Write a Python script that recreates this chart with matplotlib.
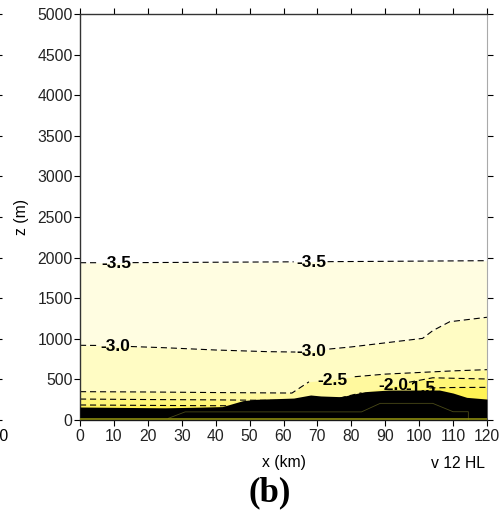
import numpy as np
import matplotlib
matplotlib.use("Agg")
import matplotlib.pyplot as plt

plt.rcParams['font.family'] = ['Liberation Sans', 'DejaVu Sans']

nan = np.nan
# contour lines (x in km, z in m); NaN marks gaps left for labels
x35 = [0, 5.5, nan, 15.5, 30, 45, 63, nan, 73, 90, 105, 120]
z35 = [1937, 1937, nan, 1938, 1941, 1944, 1948, nan, 1950, 1954, 1958, 1962]

x30 = [0, 5.5, nan, 15, 25, 40, 55, 63.5, nan, 73.5, 80, 90, 101, 104, 109, 120]
z30 = [920, 918, nan, 905, 890, 862, 842, 837, nan, 874, 900, 950, 1005, 1100, 1210, 1265]

x25 = [0, 20, 40, 62.5, 67.5, nan, 81, 90, 100, 110, 120]
z25 = [349, 345, 338, 332, 470, nan, 533, 565, 585, 605, 620]

x20 = [0, 20, 40, 48, 60, 75, 83, nan, 97, 104, 112, 120]
z20 = [258, 252, 248, 245, 240, 255, 335, nan, 465, 520, 512, 505]

x15 = [0, 20, 38, 50, 70, 90, 95, nan, 103, 110, 120]
z15 = [185, 180, 176, 175, 200, 300, 350, nan, 395, 400, 402]

levels = [-3.5, -3.0, -2.5, -2.0, -1.5]
band_colors = ['#FFFDE1', '#FFFCC4', '#FFF99E', '#FFF678', '#FFF355']

# contour labels: (text, x, z)
label_txt = ['-3.5', '-3.5', '-3.0', '-3.0', '-2.5', '-2.0', '-1.5']
label_x = [10.6, 68.2, 10.3, 68.3, 74.5, 92.5, 100.5]
label_z = [1930, 1942, 910, 840, 485, 430, 390]

# terrain
xt = [0, 25, 35, 42, 48, 52, 63, 68, 71, 77, 84, 91, 106, 110, 114, 120]
zt = [160, 150, 158, 165, 238, 255, 270, 308, 296, 287, 349, 369, 369, 332, 279, 258]

# inner terrain outline
xi = [26, 31, 83, 88.5, 104, 110, 114.5, 114.5]
zi = [20, 100, 100, 205, 205, 102, 102, 0]

xticks = list(range(0, 121, 10))
zticks = list(range(0, 5001, 500))

fig = plt.figure(figsize=(5.01, 5.19), dpi=100)
ax = fig.add_axes([80/501, 1-420/519, 407/501, 406/519])

lines = [(x35, z35), (x30, z30), (x25, z25), (x20, z20), (x15, z15)]
for (xs, zs), c in zip(lines, band_colors):
    xa = np.array(xs, float); za = np.array(zs, float)
    m = ~np.isnan(xa)
    ax.fill_between(xa[m], za[m], 0, color=c, lw=0, zorder=1)
for xs, zs in lines:
    ax.plot(xs, zs, color='black', lw=0.8, linestyle=(0, (5.5, 3.5)), zorder=2)

for t, lx, lz in zip(label_txt, label_x, label_z):
    ax.text(lx, lz, t, ha='center', va='center', fontsize=12.5, fontweight='bold', zorder=3)

ax.fill_between(xt, zt, 0, color='black', lw=0, zorder=4)
ax.plot(xi, zi, color='#4a4a18', lw=0.6, zorder=5)
ax.plot([0, 120], [8, 8], color='#8c8c10', lw=1.2, zorder=5)

ax.set_xlim(0, 120)
ax.set_ylim(0, 5000)
ax.set_xticks(xticks)
ax.set_yticks(zticks)
ax.tick_params(direction='out', length=4.3, width=0.8, labelsize=11.3, pad=1,
               top=True, right=True)
ax.tick_params(axis='x', pad=2)
for lab in ax.get_xticklabels() + ax.get_yticklabels():
    lab.set_color('#222222')
for s in ['left', 'bottom', 'top']:
    ax.spines[s].set_color('#333333')
    ax.spines[s].set_linewidth(1.0)
ax.spines['right'].set_color('#aaaaaa')
for t in ax.yaxis.get_ticklines()[1::2]:
    t.set_color('#666666')

ax.set_xlabel('x (km)', fontsize=11.3)
ax.xaxis.set_label_coords(0.5, (420-463)/406)
ax.xaxis.label.set_va('center')
ax.set_ylabel('z (m)', fontsize=11.3)
ax.yaxis.set_label_coords((22-80)/407, 0.5)
ax.yaxis.label.set_va('center')

fig.text(458/501, 1-463/519, 'v 12 HL', ha='center', va='center', fontsize=11.3)
fig.text(270/501, 1-493/519, '(b)', ha='center', va='center', fontsize=25,
         fontweight='bold', family='Liberation Serif')

# neighbouring panel (cut off at the left edge)
ax2 = fig.add_axes([-304/501, 1-420/519, 300/501, 406/519])
ax2.set_xlim(0, 120)
ax2.set_ylim(0, 5000)
ax2.set_xticks(xticks)
ax2.set_xticklabels([''] * (len(xticks) - 1) + ['120'])
ax2.set_yticks(zticks)
ax2.yaxis.tick_right()
ax2.set_yticklabels([])
for s in ax2.spines.values():
    s.set_visible(False)
ax2.patch.set_visible(False)
ax2.tick_params(direction='out', length=4.3, width=0.8, labelsize=11.3, pad=2)

fig.savefig('out.png', dpi=100)
